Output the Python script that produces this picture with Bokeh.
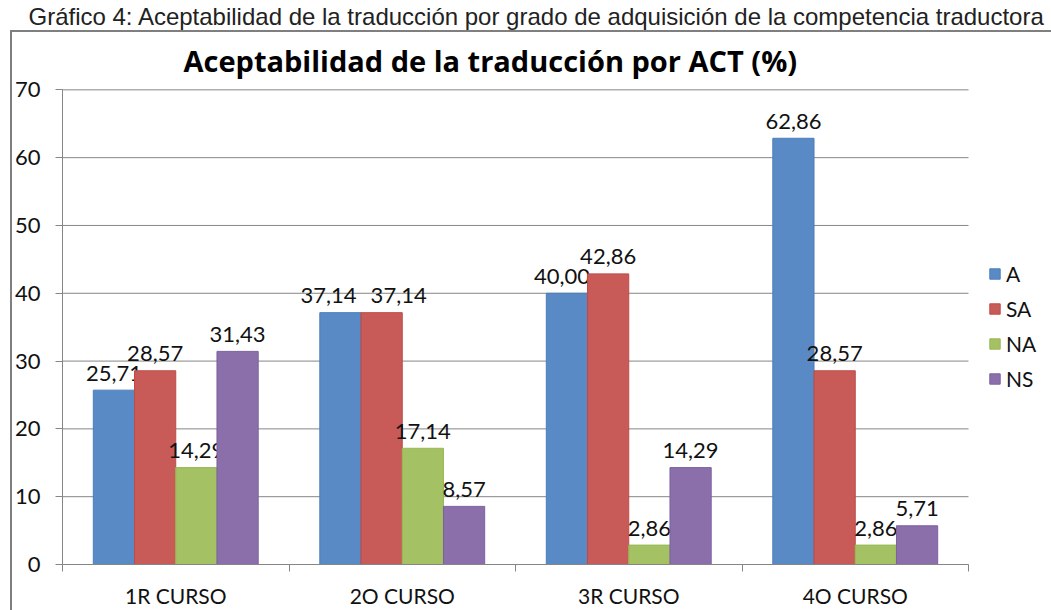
from bokeh.plotting import figure
from bokeh.models import (Range1d, FixedTicker, ColumnDataSource, Legend,
                          LegendItem, Title, InlineStyleSheet)
from bokeh.core.properties import value
from bokeh.embed import file_html
from bokeh.resources import INLINE

# ---------------- data ----------------
categories = ["1R CURSO", "2O CURSO", "3R CURSO", "4O CURSO"]
series_names = ["A", "SA", "NA", "NS"]
A_vals = [25.71, 37.14, 40.00, 62.86]
SA_vals = [28.57, 37.14, 42.86, 28.57]
NA_vals = [14.29, 17.14, 2.86, 2.86]
NS_vals = [31.43, 8.57, 14.29, 5.71]
y_ticks = [0, 10, 20, 30, 40, 50, 60, 70]

caption = ("Gráfico 4: Aceptabilidad de la traducción por grado de adquisición "
           "de la competencia traductora")
title = "Aceptabilidad de la traducción por ACT (%)"

# ---------------- styles ----------------
fills = ["#5A8AC6", "#C85A57", "#A4C163", "#8B6FAA"]
lines = ["#4A7EBB", "#BE4B48", "#98B954", "#7D60A0"]
# per-label horizontal nudge (px) to avoid overlapping labels (series x category)
nudges = [[0, -12, -5, 0], [0, 17, 0, 0], [0, 0, 0, 0], [0, 0, 0, 0]]
GRAY = "#868686"
FONT = "Lato"

W, H = 1051, 610
ML, MB = 62, 44
PLOT_W = 906                      # width of the bar area in px
FRAME_W = W - ML                  # frame also hosts the legend on its right
n = len(categories)
x_end = n * FRAME_W / PLOT_W

p = figure(width=W, height=H, output_backend="svg", toolbar_location=None,
           x_range=Range1d(0, x_end), y_range=Range1d(0, 70.2),
           min_border_left=ML, min_border_right=0,
           min_border_top=0, min_border_bottom=MB)
p.outline_line_color = None
p.background_fill_color = "white"
p.border_fill_color = "white"
p.xgrid.visible = False
p.ygrid.visible = False

# horizontal gridlines over the category area only
p.segment(x0=[0] * len(y_ticks), x1=[n] * len(y_ticks), y0=y_ticks, y1=y_ticks,
          line_color=GRAY, line_width=1)

# ---------------- bars ----------------
bar_w = 0.182
offsets = [-1.5 * bar_w, -0.5 * bar_w, 0.5 * bar_w, 1.5 * bar_w]
all_series = [A_vals, SA_vals, NA_vals, NS_vals]
legend_items = []
for k, (name, vals) in enumerate(zip(series_names, all_series)):
    xs = [i + 0.5 + offsets[k] for i in range(n)]
    src = ColumnDataSource(dict(
        x=xs, top=vals,
        lab=[f"{v:.2f}".replace(".", ",") for v in vals],
        dx=nudges[k]))
    r = p.vbar(x="x", top="top", bottom=0, width=bar_w, source=src,
               fill_color=fills[k], line_color=lines[k], line_width=1)
    p.text(x="x", y="top", text="lab", source=src,
           text_align="center", text_baseline="alphabetic",
           x_offset="dx", y_offset=-17,
           text_font=value(FONT), text_font_size="22px", text_color="#111111")
    legend_items.append(LegendItem(label=name, renderers=[r]))

# ---------------- axes ----------------
xa = p.xaxis[0]
xa.bounds = (0, n)
xa.ticker = FixedTicker(ticks=[i + 0.5 for i in range(n)],
                        minor_ticks=list(range(n + 1)))
xa.major_label_overrides = {i + 0.5: c for i, c in enumerate(categories)}
xa.major_tick_line_color = None
xa.minor_tick_line_color = GRAY
xa.minor_tick_in = 0
xa.minor_tick_out = 7
xa.axis_line_color = GRAY
xa.major_label_standoff = 11
xa.major_label_text_font = FONT
xa.major_label_text_font_size = "21px"
xa.major_label_text_color = "#111111"

ya = p.yaxis[0]
ya.bounds = (0, 70)
ya.ticker = FixedTicker(ticks=y_ticks, minor_ticks=[])
ya.major_tick_in = 0
ya.major_tick_out = 7
ya.major_tick_line_color = GRAY
ya.minor_tick_line_color = None
ya.axis_line_color = GRAY
ya.major_label_standoff = 15
ya.major_label_text_font = FONT
ya.major_label_text_font_size = "22px"
ya.major_label_text_color = "#111111"

# ---------------- legend (inside the frame, right of the bars) ----------------
legend = Legend(items=legend_items, location=(PLOT_W + 20, 173),
                glyph_width=13, glyph_height=13, label_height=20, spacing=10,
                label_standoff=5, label_width=36, padding=0, margin=0,
                border_line_alpha=0, background_fill_alpha=0,
                label_text_font=FONT, label_text_font_size="21px",
                label_text_color="#111111")
p.add_layout(legend)

# ---------------- titles (main first: closest to plot) ----------------
p.add_layout(Title(text=title, align="left", offset=121, standoff=18,
                   vertical_align="bottom",
                   text_font="Open Sans", text_font_size="29px",
                   text_font_style="bold", text_color="#000000"), "above")
p.add_layout(Title(text=caption, align="left", offset=-34, standoff=0,
                   vertical_align="bottom",
                   text_font="Liberation Sans", text_font_size="24px",
                   text_font_style="normal", text_color="#222222"), "above")

# chart-area border (left and top edges; the rest falls outside the crop)
p.stylesheets = [InlineStyleSheet(css="""
:host { position: relative; }
:host::after {
  content: ""; position: absolute; left: 10px; top: 30px; right: 0; bottom: 0;
  border-left: 2px solid #7F7F7F; border-top: 2px solid #7F7F7F;
  pointer-events: none;
}
""")]

open("out.html", "w").write(file_html(p, INLINE))
